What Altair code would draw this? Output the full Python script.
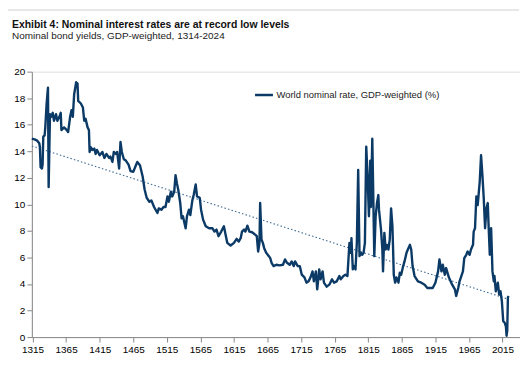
import altair as alt
import pandas as pd

TITLE = "Exhibit 4: Nominal interest rates are at record low levels"
SUBTITLE = "Nominal bond yields, GDP-weighted, 1314-2024"
SERIES = "World nominal rate, GDP-weighted (%)"

YEARS = [1314, 1318, 1322, 1325, 1326, 1327, 1329, 1330, 1331, 1333, 1334, 1336, 1338, 1339,
         1341, 1343, 1345, 1347, 1350, 1352, 1355, 1357, 1358, 1362, 1366, 1368, 1371, 1373,
         1375, 1377, 1380, 1382, 1383, 1387, 1390, 1392, 1394, 1397, 1399, 1400, 1402, 1404,
         1407, 1409, 1411, 1415, 1419, 1422, 1425, 1429, 1431, 1434, 1436, 1439, 1441, 1444,
         1446, 1448, 1451, 1454, 1458, 1461, 1465, 1469, 1471, 1475, 1479, 1482, 1485, 1489,
         1492, 1496, 1501, 1503, 1507, 1510, 1513, 1516, 1518, 1521, 1523, 1526, 1528, 1530,
         1532, 1535, 1537, 1539, 1543, 1545, 1548, 1550, 1553, 1555, 1558, 1560, 1564, 1566,
         1569, 1573, 1578, 1583, 1586, 1589, 1592, 1596, 1600, 1602, 1605, 1610, 1615, 1619,
         1622, 1625, 1627, 1630, 1632, 1635, 1638, 1642, 1647, 1649, 1651, 1653, 1654, 1656,
         1658, 1660, 1663, 1667, 1669, 1671, 1674, 1678, 1683, 1688, 1691, 1694, 1698, 1701,
         1704, 1706, 1710, 1713, 1716, 1720, 1723, 1726, 1729, 1732, 1734, 1737, 1739, 1742,
         1744, 1747, 1749, 1753, 1757, 1761, 1764, 1768, 1772, 1774, 1778, 1781, 1784, 1787,
         1789, 1790, 1792, 1794, 1796, 1798, 1800, 1802, 1804, 1806, 1808, 1810, 1812, 1814,
         1816, 1818, 1819, 1821, 1822, 1824, 1826, 1828, 1830, 1831, 1834, 1836, 1837, 1839,
         1841, 1843, 1845, 1847, 1849, 1851, 1852, 1853, 1855, 1857, 1860, 1862, 1864, 1867,
         1869, 1872, 1874, 1877, 1879, 1881, 1884, 1889, 1894, 1899, 1903, 1907, 1911, 1915,
         1919, 1921, 1924, 1926, 1929, 1931, 1935, 1940, 1944, 1946, 1949, 1951, 1953, 1956,
         1958, 1961, 1963, 1966, 1968, 1971, 1972, 1974, 1976, 1978, 1981, 1982, 1983, 1985,
         1987, 1989, 1991, 1993, 1994, 1996, 1998, 2000, 2002, 2003, 2005, 2008, 2010, 2012,
         2014, 2016, 2018, 2020, 2021, 2022, 2023, 2024]

RATES = [14.96, 14.9, 14.8, 14.6, 14.3, 12.8, 12.7, 13.0, 15.1, 15.2, 15.8, 17.6, 18.8, 11.3,
         16.8, 16.6, 16.9, 16.3, 16.8, 16.3, 16.6, 16.9, 15.6, 15.8, 15.6, 15.45, 16.6, 17.1,
         16.6, 18.3, 19.2, 19.1, 17.8, 17.6, 17.3, 16.3, 16.45, 15.8, 15.6, 13.95, 14.3, 14.1,
         14.2, 13.8, 14.1, 13.7, 13.95, 13.5, 13.8, 13.5, 13.6, 13.2, 13.95, 13.8, 13.95, 12.7,
         14.7, 13.95, 13.4, 13.3, 13.0, 12.5, 12.45, 12.95, 13.2, 12.95, 12.1, 11.1, 10.5, 10.2,
         10.3, 9.8, 9.35, 9.7, 9.6, 9.8, 9.8, 10.6, 10.2, 10.95, 10.6, 10.95, 12.2, 11.6,
         11.1, 10.1, 8.95, 9.1, 8.2, 9.1, 9.6, 9.2, 10.3, 10.7, 11.5, 10.6, 10.5, 9.6,
         8.85, 8.35, 8.2, 8.2, 7.95, 8.1, 7.6, 7.95, 8.35, 7.85, 7.1, 6.9, 7.1, 7.4,
         7.2, 7.45, 7.95, 8.1, 7.95, 8.4, 7.95, 7.9, 7.7, 7.6, 6.45, 7.1, 10.1, 7.35,
         7.1, 6.7, 6.35, 6.1, 5.95, 5.6, 5.35, 5.45, 5.4, 5.45, 5.85, 5.6, 5.45, 5.7,
         5.35, 5.7, 5.35, 5.35, 4.7, 4.5, 4.1, 4.2, 4.5, 4.95, 4.2, 4.95, 3.6, 5.1,
         4.35, 4.95, 4.1, 3.8, 3.95, 4.35, 4.1, 4.2, 4.6, 4.35, 4.6, 4.7, 4.6, 7.1,
         6.35, 7.45, 5.1, 5.35, 5.1, 7.1, 12.6, 6.1, 6.35, 6.2, 6.35, 7.1, 14.35, 12.1,
         9.1, 13.3, 9.8, 14.95, 12.1, 6.1, 9.1, 10.1, 10.7, 9.6, 8.1, 6.6, 4.95, 7.85,
         6.6, 6.95, 6.6, 7.35, 9.7, 8.35, 6.6, 4.7, 4.1, 4.5, 4.1, 4.85, 4.7, 5.35,
         5.7, 6.35, 6.6, 6.95, 6.6, 5.35, 4.6, 4.2, 4.1, 3.95, 3.7, 3.7, 3.7, 4.1,
         4.95, 5.85, 4.95, 5.45, 4.7, 5.2, 4.5, 3.95, 3.6, 3.1, 3.7, 4.2, 4.5, 4.95,
         5.95, 6.2, 6.45, 6.2, 6.6, 6.95, 7.95, 8.2, 10.6, 9.95, 11.7, 12.7, 13.7, 12.2,
         10.45, 8.2, 9.7, 10.1, 8.7, 6.2, 8.2, 4.95, 4.2, 4.6, 3.45, 4.1, 3.2, 3.45,
         2.7, 1.2, 1.1, 0.8, 0.1, 0.5, 3.0, 3.1]

TREND_YEARS = [1314, 2024]
TREND_RATES = [14.4, 2.85]

X_TICKS = [1315, 1365, 1415, 1465, 1515, 1565, 1615, 1665, 1715, 1765, 1815, 1865, 1915, 1965, 2015]
Y_TICKS = [0, 2, 4, 6, 8, 10, 12, 14, 16, 18, 20]

NAVY = "#0b3a66"
TREND_COLOR = "#3d6a93"
AXIS_GREY = "#d9d9d9"
LABEL_FONT = "Liberation Sans, Arial, sans-serif"

df = pd.DataFrame({"year": YEARS, "rate": RATES, "series": SERIES})
trend = pd.DataFrame({"year": TREND_YEARS, "rate": TREND_RATES})
one = pd.DataFrame({"k": [0]})

x_enc = alt.X(
    "year:Q",
    scale=alt.Scale(domain=[1314, 2041], nice=False, zero=False),
    axis=alt.Axis(values=X_TICKS, format="d", title=None, grid=False, labelFlush=False),
)
y_enc = alt.Y(
    "rate:Q",
    scale=alt.Scale(domain=[0, 20], nice=False),
    axis=alt.Axis(values=Y_TICKS, format="d", title=None, grid=False),
)

trend_layer = alt.Chart(trend).mark_line(
    strokeDash=[1.5, 2.2], strokeWidth=1.1, color=TREND_COLOR
).encode(x=x_enc, y=y_enc)

line_layer = alt.Chart(df).mark_line(strokeWidth=2.4, strokeJoin="round").encode(
    x=x_enc,
    y=y_enc,
    color=alt.Color(
        "series:N",
        scale=alt.Scale(range=[NAVY]),
        legend=alt.Legend(
            title=None,
            orient="none",
            legendX=223,
            legendY=13,
            symbolType="stroke",
            symbolSize=324,
            symbolStrokeWidth=2.5,
            labelFont=LABEL_FONT,
            labelFontSize=9.5,
            labelColor="#222222",
            labelOffset=2,
            labelLimit=400,
        ),
    ),
)

top_rule = alt.Chart(one).mark_rule(color="#cfcfcf", strokeWidth=1).encode(
    x=alt.value(-24), x2=alt.value(490), y=alt.value(-62)
)

title_text = alt.Chart(one).mark_text(
    align="left", baseline="alphabetic", font=LABEL_FONT, fontSize=10.5,
    fontWeight="bold", color="#111111"
).encode(x=alt.value(-20), y=alt.value(-44), text=alt.value(TITLE))

subtitle_text = alt.Chart(one).mark_text(
    align="left", baseline="alphabetic", font=LABEL_FONT, fontSize=10, color="#222222"
).encode(x=alt.value(-20), y=alt.value(-33), text=alt.value(SUBTITLE))

chart = (
    alt.layer(top_rule, title_text, subtitle_text, trend_layer, line_layer)
    .properties(
        width=491,
        height=267,
        padding={"left": 24, "top": 63, "right": 0, "bottom": 18},
        autosize=alt.AutoSizeParams(type="none"),
    )
    .configure_view(stroke=None)
    .configure_axis(
        labelFont=LABEL_FONT,
        labelFontSize=9,
        labelColor="#222222",
        domainColor=AXIS_GREY,
        tickColor=AXIS_GREY,
        tickSize=3,
        labelPadding=3,
    )
    .configure(background="white")
)

chart.save("out.html", embed_options={"renderer": "svg", "actions": False})
